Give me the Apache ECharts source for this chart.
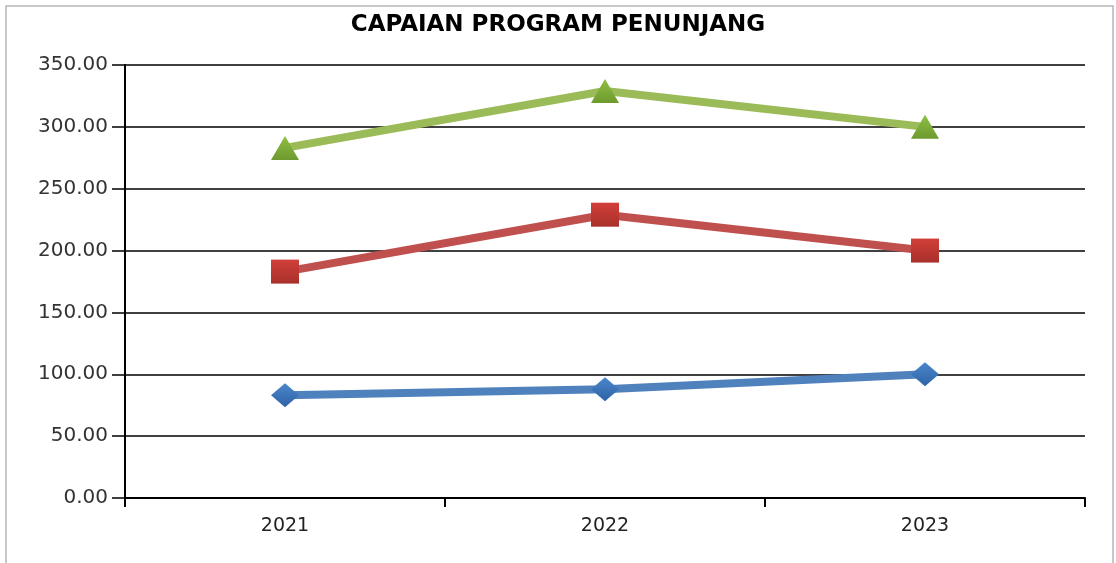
<!DOCTYPE html>
<html>
<head>
<meta charset="utf-8">
<title>CAPAIAN PROGRAM PENUNJANG</title>
<script src="https://cdn.jsdelivr.net/npm/echarts@6/dist/echarts.min.js"></script>
<style>
  html, body { margin: 0; padding: 0; background: #fff; }
  #chart { width: 1116px; height: 563px; }
</style>
</head>
<body>
<div id="chart"></div>
<script>
// data
var years = ['2021', '2022', '2023']
var blueValues = [83, 88, 100]
var redValues = [183, 229, 200]
var greenValues = [283, 329, 300]

function grad (top, bottom) {
  return new echarts.graphic.LinearGradient(0, 0, 0, 1, [
    { offset: 0, color: top },
    { offset: 1, color: bottom }
  ])
}

var myChart = echarts.init(document.getElementById('chart'))
myChart.setOption({
  animation: false,
  title: {
    text: 'CAPAIAN PROGRAM PENUNJANG',
    left: 'center',
    top: 9,
    textStyle: { fontFamily: 'DejaVu Sans', fontSize: 23, fontWeight: 'bold', color: '#000' }
  },
  graphic: [{
    type: 'rect',
    shape: { x: 6, y: 6, width: 1107, height: 570 },
    style: { fill: 'none', stroke: '#b5b5b5', lineWidth: 1.5 },
    silent: true
  }],
  grid: { left: 125, right: 31, top: 65, bottom: 65 },
  xAxis: {
    type: 'category',
    data: years,
    boundaryGap: true,
    axisLine: { lineStyle: { color: '#000', width: 2 } },
    axisTick: { show: true, length: 9, lineStyle: { color: '#000', width: 2 } },
    axisLabel: { fontFamily: 'DejaVu Sans', fontSize: 19, color: '#222', margin: 19 },
    splitLine: { show: false }
  },
  yAxis: {
    type: 'value',
    min: 0,
    max: 350,
    interval: 50,
    axisLine: { show: true, lineStyle: { color: '#000', width: 2 } },
    axisTick: { show: true, length: 13, lineStyle: { color: '#000', width: 1.5 } },
    axisLabel: {
      fontFamily: 'DejaVu Sans', fontSize: 20, color: '#333', margin: 17,
      formatter: function (v) { return v.toFixed(2) }
    },
    splitLine: { show: true, lineStyle: { color: '#000', width: 1.5 } }
  },
  series: [
    {
      name: 'blue',
      type: 'line',
      data: blueValues,
      symbol: 'diamond',
      symbolSize: [28, 24],
      lineStyle: { color: '#4f81bd', width: 8 },
      itemStyle: { color: grad('#4a86cc', '#2f63a6') }
    },
    {
      name: 'red',
      type: 'line',
      data: redValues,
      symbol: 'rect',
      symbolSize: [28, 24],
      lineStyle: { color: '#c0504d', width: 8 },
      itemStyle: { color: grad('#d23f39', '#a8302b') }
    },
    {
      name: 'green',
      type: 'line',
      data: greenValues,
      symbol: 'triangle',
      symbolSize: [28, 24],
      lineStyle: { color: '#9bbb59', width: 8 },
      itemStyle: { color: grad('#8fbf44', '#6e9a2e') }
    }
  ]
})
</script>
</body>
</html>
